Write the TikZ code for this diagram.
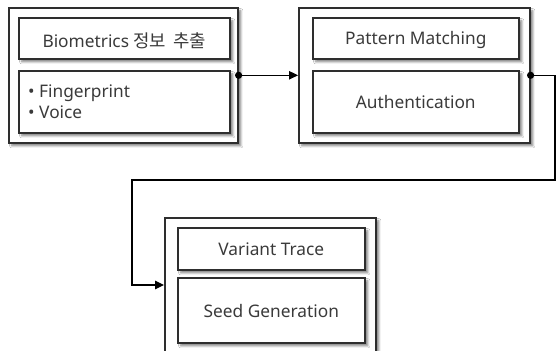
\documentclass[tikz,border=0pt]{standalone}
\usepackage{fontspec}
\setmainfont{Noto Sans}
\newfontfamily\kofont{Noto Sans CJK KR}
\usetikzlibrary{shadows.blur,arrows.meta}
\definecolor{edge}{HTML}{2E2E2E}
\definecolor{ink}{HTML}{3A3A3A}
\tikzset{
  panel/.style={draw=edge, line width=1.6pt, fill=white, anchor=north west,
    blur shadow={shadow xshift=3pt, shadow yshift=-3pt, shadow blur steps=6,
      shadow opacity=50}},
  cell/.style={draw=edge, line width=1.6pt, fill=white, anchor=north west,
    blur shadow={shadow xshift=3pt, shadow yshift=-3pt, shadow blur steps=6,
      shadow opacity=50}},
  label/.style={text=ink, font=\fontsize{17.3}{21}\selectfont, inner sep=0pt},
  conn/.style={draw=black, line width=1.1pt},
  tip/.style={-{Triangle[length=9pt,width=8.5pt]}},
}
\begin{document}
\begin{tikzpicture}[x=1pt,y=-1pt]
\useasboundingbox[fill=white] (0,0) rectangle (558,351);

% first stage
\node[panel, minimum width=229pt, minimum height=135pt] (b1) at (8,7) {};
\node[cell, minimum width=211pt, minimum height=41pt] (b1a) at (18,17) {};
\node[cell, minimum width=211pt, minimum height=62pt] (b1b) at (18,70) {};
\node[label] (t1a) at ([yshift=-2pt]b1a.center) {Biometrics {\kofont\fontsize{17.8}{21}\selectfont 정보\hspace{3pt} 추출}};
\node[label, anchor=west, align=left] (t1b) at (28,102) {• Fingerprint\\• Voice};

% second stage
\node[panel, minimum width=231pt, minimum height=135pt] (b2) at (298,7) {};
\node[cell, minimum width=206pt, minimum height=41pt] (b2a) at (312,17) {};
\node[cell, minimum width=206pt, minimum height=62pt] (b2b) at (312,70) {};
\node[label] (t2a) at ([yshift=-2pt]b2a.center) {Pattern Matching};
\node[label] (t2b) at (b2b.center) {Authentication};

% third stage (runs past the lower edge)
\node[panel, minimum width=211pt, minimum height=150pt] (b3) at (164,217) {};
\node[cell, minimum width=187pt, minimum height=42pt] (b3a) at (177,227) {};
\node[cell, minimum width=187pt, minimum height=65pt] (b3b) at (177,277) {};
\node[label] (t3a) at (b3a.center) {Variant Trace};
\node[label] (t3b) at ([yshift=-1pt]b3b.center) {Seed Generation};

% connectors
\coordinate (down) at (555,180);
\coordinate (back) at (132,180);
\draw[conn, tip] (b1.east) -- (b2.west);
\fill (b1.east) circle (3.6pt);
\draw[conn, tip] (b2.east) -| (down) -- (back) |- (b3.north west |- 0,285);
\fill (b2.east) circle (3.6pt);
\end{tikzpicture}
\end{document}
